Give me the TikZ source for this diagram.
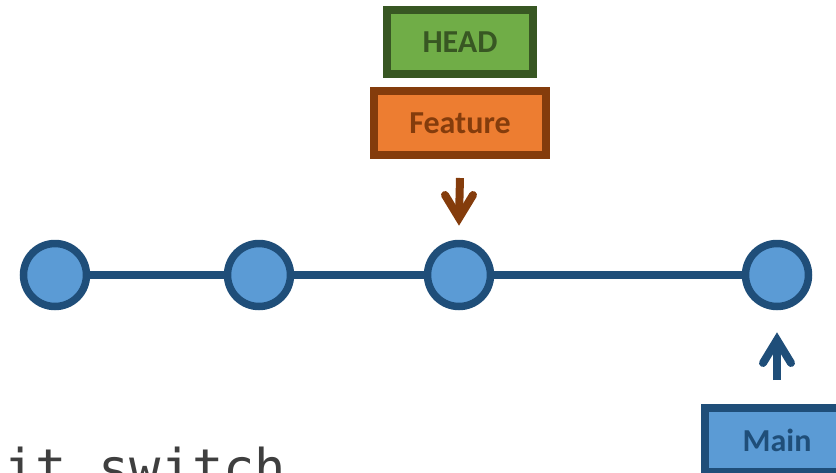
\documentclass[tikz,border=0pt]{standalone}
\usepackage{fontspec}
\setmainfont{Carlito}
\newfontfamily\codefont{DejaVu Sans Mono}
\usetikzlibrary{calc}
\definecolor{bluefill}{HTML}{5B9BD5}
\definecolor{blueline}{HTML}{1F4E79}
\definecolor{greenfill}{HTML}{70AD47}
\definecolor{greenline}{HTML}{385723}
\definecolor{orangefill}{HTML}{ED7D31}
\definecolor{brownline}{HTML}{843C0C}
\definecolor{codegray}{HTML}{3F3F3F}
\begin{document}
\begin{tikzpicture}[x=1pt,y=-1pt,
  commit/.style={circle, draw=blueline, fill=bluefill, line width=7.5pt,
    minimum size=63pt, inner sep=0pt},
  history/.style={draw=blueline, line width=8pt},
  branchbox/.style={rectangle, line width=8pt, minimum height=64pt,
    inner sep=0pt, font=\bfseries\fontsize{32}{32}\selectfont},
  ptr/.style={line width=8pt},
  tiphead/.style={line width=8pt, line cap=round, line join=miter}]
\useasboundingbox (0,0) rectangle (836,472);
\clip (0,0) rectangle (836,472);

% commits
\node[commit] (c1) at (55,275) {};
\node[commit] (c2) at (259,275) {};
\node[commit] (c3) at (459,275) {};
\node[commit] (c4) at (777,275) {};

% history line
\draw[history] (c1) -- (c2);
\draw[history] (c2) -- (c3);
\draw[history] (c3) -- (c4);

% branch labels
\node[branchbox, draw=greenline, fill=greenfill, text=greenline,
  minimum width=146pt] (head) at (460,42) {HEAD};
\node[branchbox, draw=brownline, fill=orangefill, text=brownline,
  minimum width=172pt] (feat) at (460,123) {Feature};
\node[branchbox, draw=blueline, fill=bluefill, text=blueline,
  minimum width=144pt] (main) at (777,440) {Main};

% Feature points at the third commit
\draw[ptr, draw=brownline] ([yshift=-19pt]feat.south) -- ([yshift=21.75pt]c3.north) coordinate (ftip);
\draw[tiphead, draw=brownline] ($(ftip)+(-14,-23)$) -- (ftip) -- ($(ftip)+(14,-23)$);

% Main points at the last commit
\draw[ptr, draw=blueline] ([yshift=24pt]main.north) -- ([yshift=-29.75pt]c4.south) coordinate (mtip);
\draw[tiphead, draw=blueline] ($(mtip)+(-14,23)$) -- (mtip) -- ($(mtip)+(14,23)$);

% command line
\node[anchor=base west, inner sep=0pt, text=codegray,
  font=\codefont\fontsize{52}{52}\selectfont] (cmd) at (4.3,486) {it switch};
\end{tikzpicture}
\end{document}
